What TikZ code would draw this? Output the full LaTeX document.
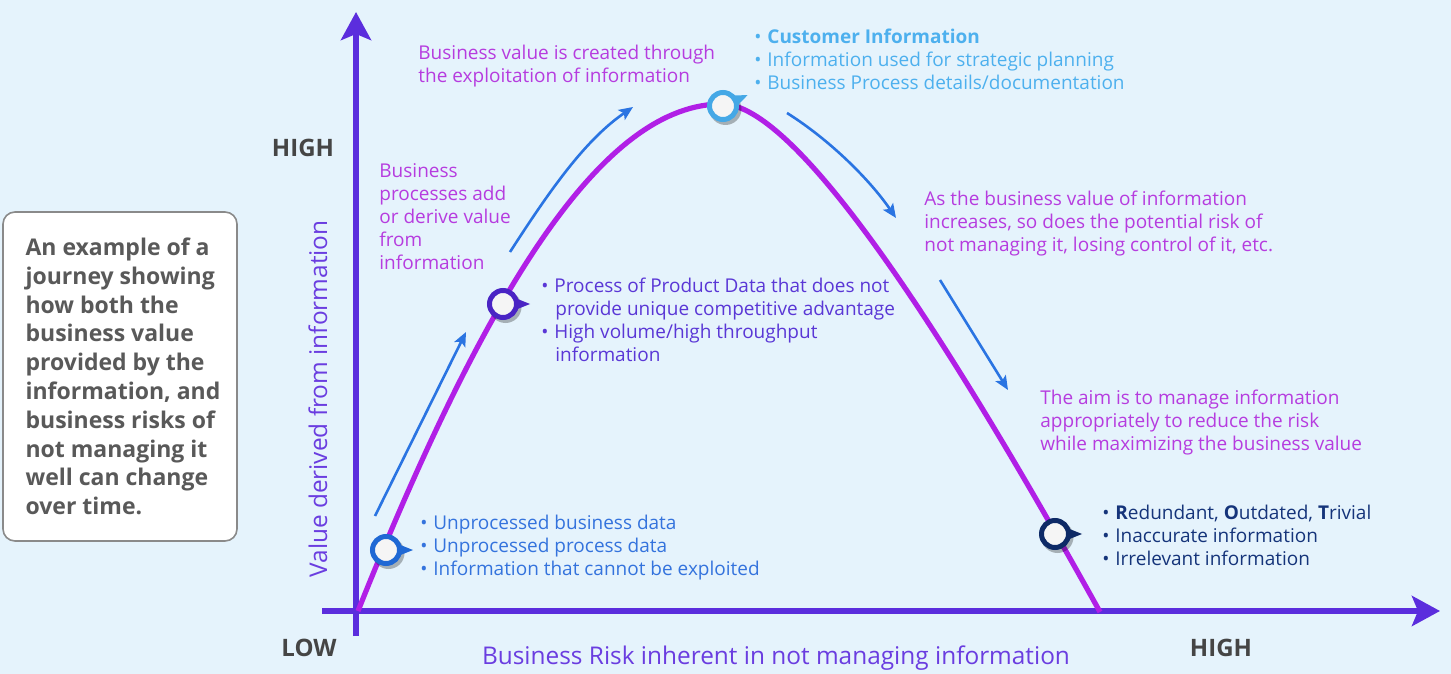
\documentclass[tikz,border=0pt]{standalone}
\usepackage{fontspec}
\setmainfont{Open Sans}
\usetikzlibrary{arrows.meta}
\definecolor{bg}{HTML}{E5F3FC}
\definecolor{axiscol}{HTML}{5B2DDD}
\definecolor{curvecol}{HTML}{B11FE6}
\definecolor{arrowcol}{HTML}{2A74E2}
\definecolor{magtext}{HTML}{B63CDF}
\definecolor{toptext}{HTML}{4DB0EE}
\definecolor{midtext}{HTML}{5A37D6}
\definecolor{midring}{HTML}{4A24C4}
\definecolor{bltext}{HTML}{3473DD}
\definecolor{blring}{HTML}{1F68D4}
\definecolor{brtext}{HTML}{15347A}
\definecolor{brring}{HTML}{0E2A66}
\definecolor{topring}{HTML}{45A8E6}
\definecolor{hilo}{HTML}{454545}
\definecolor{boxtext}{HTML}{595959}
\definecolor{boxline}{HTML}{8A8A8A}
\definecolor{axtitle}{HTML}{6A3DE0}
\newcommand\mybul{\makebox[6.5pt][l]{•}}
\newcommand\mymarker[5]{%
  \fill[black,opacity=0.28] (#2+2.5,#3+3) circle (16);
  \begin{scope}[shift={(#2,#3)},rotate=#5]
    \fill[#4] (12,-6) -- (27,0) -- (12,6) -- cycle;
  \end{scope}
  \node[marker,draw=#4] (#1) at (#2,#3) {};
}
\begin{document}
\begin{tikzpicture}[x=0.5pt,y=-0.5pt,
  axis/.style={draw=axiscol,line width=3.4pt,-{Stealth[length=14pt,width=15pt,inset=3pt]}},
  curve/.style={draw=curvecol,line width=2.6pt},
  flow/.style={draw=arrowcol,line width=1.3pt,-{Stealth[length=7pt,width=6pt,inset=1.5pt]}},
  marker/.style={circle,minimum size=13.5pt,inner sep=0pt,line width=2.5pt,fill=white!96!black},
  txt/.style={align=left,anchor=base west,inner sep=0pt,font={\fontsize{9.5pt}{11.5pt}\selectfont}},
  hilolab/.style={text=hilo,inner sep=0pt,font={\fontsize{12pt}{14pt}\selectfont\bfseries}},
  axtit/.style={text=axtitle,inner sep=0pt,font={\fontsize{12.2pt}{14pt}\selectfont}}
]
\useasboundingbox[fill=bg] (0,0) rectangle (1451,674);

% axes
\coordinate (ybot) at (356,636);
\coordinate (ytop) at (356,12);
\coordinate (xleft) at (322,611);
\coordinate (xright) at (1440,611);
\draw[axis] (ybot) -- (ytop);
\draw[axis] (xleft) -- (xright);

% curve
\coordinate (cstart) at (358,611);
\coordinate (cpeak) at (722,104);
\coordinate (cend) at (1100,612);
\draw[curve] (cstart) .. controls (493,273) and (608,104) .. (cpeak)
             .. controls (786,104) and (912,273) .. (cend);

% flow arrows
\coordinate (a1s) at (375,516); \coordinate (a1e) at (466,332);
\coordinate (a2s) at (510,252); \coordinate (a2e) at (633,107);
\coordinate (a3s) at (787,113); \coordinate (a3e) at (896,218);
\coordinate (a4s) at (940,280); \coordinate (a4e) at (1008,390);
\draw[flow] (a1s) -- (a1e);
\draw[flow] (a2s) .. controls (550,190) and (585,140) .. (a2e);
\draw[flow] (a3s) .. controls (830,140) and (870,180) .. (a3e);
\draw[flow] (a4s) -- (a4e);

% markers
\mymarker{m1}{386}{550}{blring}{0}
\mymarker{m2}{503}{304}{midring}{0}
\mymarker{m3}{723}{106}{topring}{24}
\mymarker{m4}{1055}{534}{brring}{0}

% texts (anchored at the baseline of the last line)
\node[txt,text=magtext] (tvalue) at (418,83) {Business value is created through\\the exploitation of information};
\node[txt,text=magtext] (tproc) at (379,269) {Business\\processes add\\or derive value\\from\\information};
\node[txt,text=toptext] (ttop) at (754,90) {\mybul\textbf{Customer Information}\\\mybul Information used for strategic planning\\\mybul Business Process details/documentation};
\node[txt,text=magtext] (trisk) at (924,251) {As the business value of information\\increases, so does the potential risk of\\not managing it, losing control of it, etc.};
\node[txt,text=midtext] (tmid) at (541,361) {\mybul Process of Product Data that does not\\\hspace*{7pt}provide unique competitive advantage\\\mybul High volume/high throughput\\\hspace*{7pt}information};
\node[txt,text=magtext] (taim) at (1040,450) {The aim is to manage information\\appropriately to reduce the risk\\while maximizing the business value};
\node[txt,text=bltext] (tbl) at (420,575) {\mybul Unprocessed business data\\\mybul Unprocessed process data\\\mybul Information that cannot be exploited};
\node[txt,text=brtext] (tbr) at (1102,565) {\mybul\textbf{R}edundant, \textbf{O}utdated, \textbf{T}rivial\\\mybul Inaccurate information\\\mybul Irrelevant information};

% axis labels
\node[hilolab] (yhigh) at (303,148) {HIGH};
\node[hilolab] (xlow) at (309,648) {LOW};
\node[hilolab] (xhigh) at (1221,648) {HIGH};
\node[axtit,rotate=90] (ylab) at (318,399) {Value derived from information};
\node[axtit] (xlab) at (776,658) {Business Risk inherent in not managing information};

% left box
\node[draw=boxline,line width=0.8pt,fill=white,rounded corners=6pt,minimum width=117pt,minimum height=164.5pt] (box) at (120,376.5) {};
\node[anchor=west,align=left,inner sep=0pt,text=boxtext,font={\fontsize{11.5pt}{14.4pt}\selectfont\bfseries}] (boxtxt) at ([xshift=11.5pt]box.west) {An example of a\\journey showing\\how both the\\business value\\provided by the\\information, and\\business risks of\\not managing it\\well can change\\over time.};
\end{tikzpicture}
\end{document}
